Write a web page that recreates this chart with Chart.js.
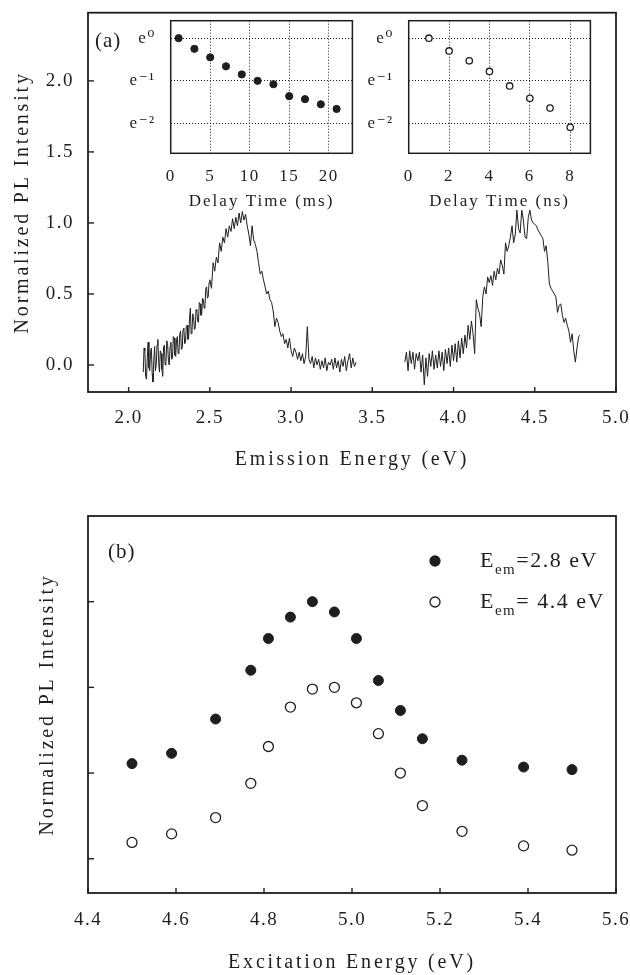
<!DOCTYPE html>
<html>
<head>
<meta charset="utf-8">
<script src="https://cdn.jsdelivr.net/npm/chart.js@4.4.1/dist/chart.umd.min.js"></script>
<style>
  body { margin: 0; background: #fff; width: 630px; height: 975px; position: relative; overflow: hidden; }
  canvas { position: absolute; }
</style>
</head>
<body>
<canvas id="panelA" width="630" height="480" style="left:0;top:0"></canvas>
<canvas id="insetMs" width="262" height="220" style="left:110px;top:0"></canvas>
<canvas id="insetNs" width="262" height="220" style="left:348px;top:0"></canvas>
<canvas id="panelB" width="630" height="505" style="left:0;top:470px"></canvas>
<script>
// ---- panel (a): PL spectra ----
var visEnergy = [
  2.090,2.095,2.100,2.105,2.110,2.115,2.120,2.125,2.130,2.135,
  2.140,2.145,2.150,2.155,2.160,2.165,2.170,2.175,2.180,2.185,
  2.190,2.195,2.200,2.205,2.210,2.215,2.220,2.225,2.230,2.235,
  2.240,2.245,2.250,2.255,2.260,2.265,2.270,2.275,2.280,2.285,
  2.290,2.295,2.300,2.305,2.310,2.315,2.320,2.325,2.330,2.335,
  2.340,2.345,2.350,2.355,2.360,2.365,2.370,2.375,2.380,2.385,
  2.390,2.395,2.400,2.405,2.410,2.415,2.420,2.425,2.430,2.435,
  2.440,2.445,2.450,2.455,2.460,2.465,2.470,2.475,2.480,2.485,
  2.490,2.495,
  2.50,2.51,2.52,2.53,2.54,2.55,2.56,2.57,2.58,2.59,
  2.60,2.61,2.62,2.63,2.64,2.65,2.66,2.67,2.68,2.69,
  2.70,2.71,2.72,2.73,2.74,2.75,2.76,2.77,2.78,2.79,
  2.80,2.81,2.82,2.83,2.84,2.85,2.86,2.87,2.88,2.89,
  2.90,2.91,2.92,2.93,2.94,2.95,2.96,2.97,2.98,2.99,
  3.00,3.01,3.02,3.03,3.04,3.05,3.06,3.07,3.08,3.09,
  3.10,3.11,3.12,3.13,3.14,3.15,3.16,3.17,3.18,3.19,
  3.20,3.21,3.22,3.23,3.24,3.25,3.26,3.27,3.28,3.29,
  3.30,3.31,3.32,3.33,3.34,3.35,3.36,3.37,3.38,3.39,
  3.40];
var visIntensity = [
  -0.05,0.12,0.10,-0.08,-0.10,0.05,0.16,-0.02,-0.04,0.09,
  0.12,-0.06,-0.12,0.03,0.13,-0.04,0.00,0.14,0.18,0.02,
  -0.05,0.10,0.08,-0.03,-0.08,0.12,0.14,0.00,0.02,0.17,
  0.15,0.03,0.00,0.13,0.16,0.04,0.05,0.20,0.19,0.07,
  0.06,0.18,0.20,0.08,0.10,0.22,0.24,0.11,0.12,0.25,
  0.26,0.15,0.16,0.27,0.28,0.18,0.20,0.33,0.40,0.22,
  0.24,0.36,0.34,0.25,0.26,0.39,0.38,0.31,0.30,0.44,
  0.43,0.35,0.36,0.47,0.46,0.40,0.42,0.54,0.55,0.47,
  0.48,0.58,
  0.60,0.54,0.72,0.66,0.76,0.72,0.86,0.80,0.90,0.86,
  0.96,0.90,0.98,0.94,1.03,0.96,1.04,0.98,1.07,1.00,
  1.08,1.02,1.06,0.98,0.92,0.84,0.98,0.88,0.85,0.80,
  0.72,0.64,0.66,0.60,0.55,0.50,0.52,0.46,0.44,0.38,
  0.27,0.33,0.30,0.24,0.20,0.22,0.15,0.18,0.12,0.19,
  0.10,0.06,0.12,0.09,0.04,0.09,0.03,0.08,0.01,0.06,
  0.27,0.04,0.01,0.06,-0.02,0.05,0.00,0.04,-0.03,0.03,
  -0.02,0.05,-0.04,0.02,0.00,0.04,-0.03,0.05,-0.02,0.03,
  -0.05,0.04,-0.01,0.06,-0.04,0.03,0.08,-0.02,0.05,-0.01,
  0.02];

var uvEnergy = [
  3.70,3.71,3.72,3.73,3.74,3.75,3.76,3.77,3.78,3.79,
  3.80,3.81,3.82,3.83,3.84,3.85,3.86,3.87,3.88,3.89,
  3.90,3.91,3.92,3.93,3.94,3.95,3.96,3.97,3.98,3.99,
  4.00,4.01,4.02,4.03,4.04,4.05,4.06,4.07,4.08,4.09,
  4.10,4.11,4.12,4.13,4.14,4.15,4.16,4.17,4.18,4.19,
  4.20,4.21,4.22,4.23,4.24,4.25,4.26,4.27,4.28,4.29,
  4.30,4.31,4.32,4.33,4.34,4.35,4.36,4.37,4.38,4.39,
  4.40,4.41,4.42,4.43,4.44,4.45,4.46,4.47,4.48,4.49,
  4.50,4.51,4.52,4.53,4.54,4.55,4.56,4.57,4.58,4.59,
  4.60,4.61,4.62,4.63,4.64,4.65,4.66,4.67,4.68,4.69,
  4.70,4.71,4.72,4.73,4.74,4.75,4.76,4.77,4.78];
var uvIntensity = [
  0.02,0.09,-0.04,0.10,0.01,0.09,-0.03,0.08,0.03,0.09,
  -0.05,0.07,-0.14,0.05,-0.08,0.08,-0.01,0.10,-0.03,0.07,
  -0.02,0.10,-0.01,0.09,-0.04,0.11,0.01,0.12,-0.01,0.14,
  0.03,0.15,0.02,0.17,0.05,0.19,0.08,0.21,0.12,0.28,
  0.18,0.31,0.22,0.08,0.46,0.40,0.36,0.27,0.48,0.55,
  0.50,0.62,0.58,0.63,0.56,0.66,0.60,0.68,0.64,0.74,
  0.70,0.64,0.86,0.80,0.84,0.90,0.98,0.86,0.92,1.09,
  0.96,0.93,1.09,1.02,0.90,0.89,1.04,1.09,1.02,1.00,
  0.99,0.98,0.95,0.93,0.91,0.89,0.80,0.84,0.73,0.57,
  0.54,0.52,0.50,0.48,0.37,0.42,0.43,0.35,0.30,0.33,
  0.28,0.24,0.16,0.22,0.10,0.02,0.12,0.20,0.21];

var emissionTicks = [2.0, 2.5, 3.0, 3.5, 4.0, 4.5, 5.0];
var intensityTicks = [0.0, 0.5, 1.0, 1.5, 2.0];

// ---- insets: decay curves (ln of intensity) ----
var msDelay = [1, 3, 5, 7, 9, 11, 13, 15, 17, 19, 21];
var msLogI = [0, -0.25, -0.45, -0.66, -0.85, -1.0, -1.08, -1.36, -1.43, -1.55, -1.66];
var nsDelay = [1, 2, 3, 4, 5, 6, 7, 8];
var nsLogI = [0, -0.30, -0.53, -0.78, -1.12, -1.41, -1.64, -2.09];
var msTicks = [0, 5, 10, 15, 20];
var nsTicks = [0, 2, 4, 6, 8];
var logTicks = [-2, -1, 0];
var logLabels = { '0': 'e\u2070', '-1': 'e\u207B\u00B9', '-2': 'e\u207B\u00B2' };

// ---- panel (b): excitation spectra ----
var excEnergy = [4.50, 4.59, 4.69, 4.77, 4.81, 4.86, 4.91, 4.96, 5.01, 5.06, 5.11, 5.16, 5.25, 5.39, 5.50];
var em28 = [2.11, 2.23, 2.63, 3.20, 3.57, 3.82, 4.00, 3.88, 3.57, 3.08, 2.73, 2.40, 2.15, 2.07, 2.04];
var em44 = [1.19, 1.29, 1.48, 1.88, 2.31, 2.77, 2.98, 3.00, 2.82, 2.46, 2.00, 1.62, 1.32, 1.15, 1.10];
var excTicks = [4.4, 4.6, 4.8, 5.0, 5.2, 5.4, 5.6];
var excYTicks = [1, 2, 3, 4];

var ink = '#1e1e1e';
var serif = "'Liberation Serif', 'DejaVu Serif', serif";

function toPoints(xs, ys) {
  return xs.map(function (x, i) { return { x: x, y: ys[i] }; });
}

function spaced(ctx, text, x, y, size, spacing, align, rotate) {
  ctx.save();
  ctx.font = size + 'px ' + serif;
  ctx.letterSpacing = spacing + 'px';
  ctx.fillStyle = ink;
  ctx.textAlign = align || 'center';
  ctx.textBaseline = 'middle';
  ctx.translate(x, y);
  if (rotate) ctx.rotate(-Math.PI / 2);
  ctx.fillText(text, 0, 0);
  ctx.restore();
}

// frame box, inward ticks, titles
function framePlugin(cfg) {
  return {
    id: 'frame',
    beforeDraw: function (chart) {
      chart.ctx.letterSpacing = cfg.tickSpacing + 'px';
    },
    afterDraw: function (chart) {
      var ctx = chart.ctx, a = chart.chartArea;
      ctx.letterSpacing = '0px';
      ctx.save();
      ctx.strokeStyle = ink;
      ctx.lineWidth = cfg.frameWidth;
      ctx.strokeRect(a.left, a.top, a.right - a.left, a.bottom - a.top);
      if (cfg.inTicks) {
        ctx.lineWidth = 1.4;
        chart.scales.x.ticks.forEach(function (t) {
          var px = chart.scales.x.getPixelForValue(t.value);
          ctx.beginPath(); ctx.moveTo(px, a.bottom); ctx.lineTo(px, a.bottom - 5); ctx.stroke();
        });
        chart.scales.y.ticks.forEach(function (t) {
          var py = chart.scales.y.getPixelForValue(t.value);
          ctx.beginPath(); ctx.moveTo(a.left, py); ctx.lineTo(a.left + 6, py); ctx.stroke();
        });
      }
      ctx.restore();
      if (cfg.decorate) cfg.decorate(ctx, a);
    }
  };
}

function fixedTicks(list) {
  return function (s) { s.ticks = list.map(function (v) { return { value: v }; }); };
}

function xScale(min, max, list, size, pad, height, grid) {
  return {
    type: 'linear', min: min, max: max,
    grid: grid || { display: false },
    border: { display: false, dash: [1, 2] },
    afterBuildTicks: fixedTicks(list),
    ticks: { color: ink, font: { family: serif, size: size }, padding: pad,
             autoSkip: false, maxRotation: 0 },
    afterFit: function (s) { s.height = height; s.paddingLeft = 0; s.paddingRight = 0; }
  };
}

function yScale(min, max, list, size, pad, width, grid) {
  return {
    type: 'linear', min: min, max: max,
    grid: grid || { display: false },
    border: { display: false, dash: [1, 2] },
    afterBuildTicks: fixedTicks(list),
    ticks: { color: ink, font: { family: serif, size: size }, padding: pad, autoSkip: false },
    afterFit: function (s) { s.width = width; s.paddingTop = 0; s.paddingBottom = 0; }
  };
}

var quiet = { legend: { display: false }, tooltip: { enabled: false } };

// panel (a)
var panelAx = xScale(1.75, 5.0, emissionTicks, 19, 7, 88);
panelAx.ticks.callback = function (v) { return v.toFixed(1); };
var panelAy = yScale(-0.19, 2.48, intensityTicks, 19, 6, 88);
panelAy.ticks.callback = function (v) { return v.toFixed(1); };

new Chart(document.getElementById('panelA'), {
  type: 'scatter',
  data: {
    datasets: [
      { data: toPoints(visEnergy, visIntensity), showLine: true, pointRadius: 0,
        borderColor: ink, borderWidth: 1, tension: 0 },
      { data: toPoints(uvEnergy, uvIntensity), showLine: true, pointRadius: 0,
        borderColor: ink, borderWidth: 1, tension: 0 }
    ]
  },
  options: {
    responsive: false, animation: false,
    layout: { padding: { left: 0, top: 12.7, right: 14, bottom: 0 } },
    plugins: quiet,
    scales: { x: panelAx, y: panelAy }
  },
  plugins: [framePlugin({
    frameWidth: 1.8, inTicks: true, tickSpacing: 1.5,
    decorate: function (ctx, a) {
      spaced(ctx, 'Normalized PL Intensity', 23, (a.top + a.bottom) / 2, 20, 2.8, 'center', true);
      spaced(ctx, 'Emission Energy (eV)', (a.left + a.right) / 2, 460, 20, 2.8);
      spaced(ctx, '(a)', a.left + 7, a.top + 29, 21, 1, 'left');
    }
  })]
});

// insets
function inset(id, xs, ys, xMax, xTicks, title, filled) {
  var dotted = { color: ink, lineWidth: 1, drawTicks: false };
  var ix = xScale(0, xMax, xTicks, 17, 13, 66.7, dotted);
  var iy = yScale(-2.7, 0.41, logTicks, 17, 15, 60.7, dotted);
  iy.ticks.callback = function (v) { return logLabels[String(v)]; };
  new Chart(document.getElementById(id), {
    type: 'scatter',
    data: {
      datasets: [{
        data: toPoints(xs, ys),
        pointRadius: filled ? 3.6 : 3.2,
        pointBorderWidth: filled ? 1 : 1.3,
        pointBackgroundColor: filled ? ink : '#fff',
        pointBorderColor: ink
      }]
    },
    options: {
      responsive: false, animation: false,
      layout: { padding: { left: 0, top: 20.7, right: 19.6, bottom: 0 } },
      plugins: quiet,
      scales: { x: ix, y: iy }
    },
    plugins: [framePlugin({
      frameWidth: 1.5, inTicks: false, tickSpacing: 1.5,
      decorate: function (ctx, a) {
        spaced(ctx, title, (a.left + a.right) / 2, 201.7, 17, 2);
      }
    })]
  });
}
inset('insetMs', msDelay, msLogI, 23, msTicks, 'Delay Time (ms)', true);
inset('insetNs', nsDelay, nsLogI, 9, nsTicks, 'Delay Time (ns)', false);

// panel (b)
var panelBx = xScale(4.4, 5.6, excTicks, 19, 8, 82);
panelBx.ticks.callback = function (v) { return v.toFixed(1); };
var panelBy = yScale(0.6, 5.0, excYTicks, 19, 6, 88);
panelBy.ticks.display = false;

function legendRow(ctx, mx, tx, y, filled, label) {
  ctx.save();
  ctx.beginPath();
  ctx.arc(mx, y, 5, 0, Math.PI * 2);
  ctx.fillStyle = filled ? ink : '#fff';
  ctx.fill();
  ctx.lineWidth = 1.3;
  ctx.strokeStyle = ink;
  ctx.stroke();
  ctx.fillStyle = ink;
  ctx.textBaseline = 'middle';
  ctx.letterSpacing = '1.5px';
  ctx.font = '22px ' + serif;
  ctx.fillText('E', tx, y);
  var w = ctx.measureText('E').width;
  ctx.font = '15px ' + serif;
  ctx.fillText('em', tx + w, y + 9);
  w += ctx.measureText('em').width;
  ctx.font = '22px ' + serif;
  ctx.fillText(label, tx + w, y);
  ctx.restore();
}

new Chart(document.getElementById('panelB'), {
  type: 'scatter',
  data: {
    datasets: [
      { label: 'Eem=2.8 eV', data: toPoints(excEnergy, em28), pointRadius: 5,
        pointBackgroundColor: ink, pointBorderColor: ink, pointBorderWidth: 1 },
      { label: 'Eem=4.4 eV', data: toPoints(excEnergy, em44), pointRadius: 5,
        pointBackgroundColor: '#fff', pointBorderColor: ink, pointBorderWidth: 1.3 }
    ]
  },
  options: {
    responsive: false, animation: false,
    layout: { padding: { left: 0, top: 46, right: 14, bottom: 0 } },
    plugins: quiet,
    scales: { x: panelBx, y: panelBy }
  },
  plugins: [framePlugin({
    frameWidth: 1.8, inTicks: true, tickSpacing: 1.5,
    decorate: function (ctx, a) {
      spaced(ctx, 'Normalized PL Intensity', 48, (a.top + a.bottom) / 2, 20, 2.8, 'center', true);
      spaced(ctx, 'Excitation Energy (eV)', (a.left + a.right) / 2, 493, 20, 2.8);
      spaced(ctx, '(b)', a.left + 20, a.top + 36, 21, 1, 'left');
      legendRow(ctx, a.left + 347, a.left + 392, a.top + 45, true, '=2.8 eV');
      legendRow(ctx, a.left + 347, a.left + 392, a.top + 86, false, '= 4.4 eV');
    }
  })]
});
</script>
</body>
</html>
